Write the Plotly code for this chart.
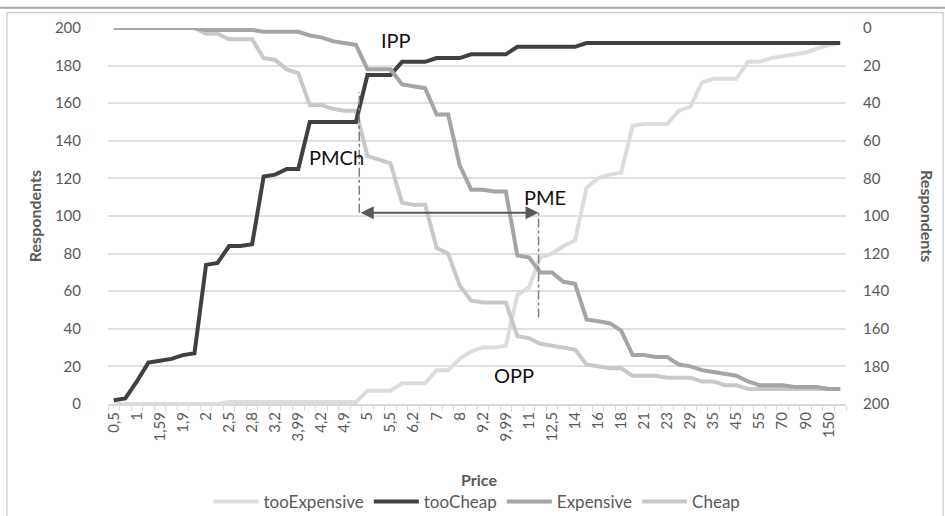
import plotly.graph_objects as go

# Price points asked in the survey (category axis, every other one labelled)
prices = ["0,5", "0,9", "1", "1,5", "1,59", "1,8", "1,9", "1,99", "2", "2,2",
          "2,5", "2,7", "2,8", "3", "3,2", "3,5", "3,99", "4", "4,2", "4,5",
          "4,9", "4,99", "5", "5,2", "5,5", "6", "6,2", "6,5", "7", "7,5",
          "8", "9", "9,2", "9,9", "9,99", "10", "11", "12", "12,5", "13",
          "14", "15", "16", "17", "18", "20", "21", "22", "23", "25",
          "29", "30", "35", "40", "45", "50", "55", "60", "70", "80",
          "90", "100", "150", "200"]

# Cumulative respondent counts per price
too_expensive = [0] * 10 + [1] * 12 + [7, 7, 7, 11, 11, 11, 18, 18, 24, 28,
                 30, 30, 31, 58, 62, 78, 80, 84, 87, 115,
                 120, 122, 123, 148, 149, 149, 149, 156, 158, 171,
                 173, 173, 173, 182, 182, 184, 185, 186, 187, 189,
                 191, 192]
too_cheap = [198, 197, 188, 178, 177, 176, 174, 173, 126, 125,
             116, 116, 115, 79, 78, 75, 75] + [50] * 5 + [25] * 3 + [18] * 3 \
    + [16] * 3 + [14] * 4 + [10] * 6 + [8] * 23
expensive = [0] * 8 + [1] * 5 + [2] * 4 + [4, 5, 7, 8, 9, 22, 22, 22, 30, 31,
             32, 46, 46, 73, 86, 86, 87, 87, 121, 122,
             130, 130, 135, 136, 155, 156, 157, 161, 174, 174,
             175, 175, 179, 180, 182, 183, 184, 185, 188, 190,
             190, 190, 191, 191, 191, 192, 192]
cheap = [200] * 8 + [197, 197, 194, 194, 194, 184, 183, 178, 176, 159,
         159, 157, 156, 156, 132, 130, 128, 107, 106, 106,
         83, 80, 63, 55, 54, 54, 54, 36, 35, 32,
         31, 30, 29, 21, 20, 19, 19, 15, 15, 15,
         14, 14, 14, 12, 12, 10, 10] + [8] * 9

y_ticks = list(range(0, 201, 20))
tick_labels = [p if i % 2 == 0 else "" for i, p in enumerate(prices)]

# Marked price points (category index positions) and their labels
pmc_pos, pme_pos, arrow_level = 21.29, 36.84, 101.7
point_labels = [("IPP", 24.5, 193.8), ("PMCh", 19.3, 131.5),
                ("PME", 37.4, 110.0), ("OPP", 34.7, 15.6)]

FONT = "Lato"
GREY_TXT = "#595959"

fig = go.Figure()
fig.add_trace(go.Scatter(x=prices, y=too_expensive, name="tooExpensive",
                         mode="lines", line=dict(color="#dcdcdc", width=4), yaxis="y"))
fig.add_trace(go.Scatter(x=prices, y=too_cheap, name="tooCheap",
                         mode="lines", line=dict(color="#404040", width=4), yaxis="y2"))
fig.add_trace(go.Scatter(x=prices, y=expensive, name="Expensive",
                         mode="lines", line=dict(color="#a5a5a5", width=4), yaxis="y2"))
fig.add_trace(go.Scatter(x=prices, y=cheap, name="Cheap",
                         mode="lines", line=dict(color="#c8c8c8", width=4), yaxis="y"))

# dash-dot drop lines at PMCh and PME
fig.add_shape(type="line", xref="x", yref="y", x0=pmc_pos, x1=pmc_pos,
              y0=arrow_level, y1=166, line=dict(color="#7f7f7f", width=1.5, dash="dashdot"))
fig.add_shape(type="line", xref="x", yref="y", x0=pme_pos, x1=pme_pos,
              y0=46, y1=arrow_level, line=dict(color="#7f7f7f", width=1.5, dash="dashdot"))

# double-headed range arrow
fig.add_annotation(x=pme_pos, y=arrow_level, ax=pmc_pos, ay=arrow_level,
                   xref="x", yref="y", axref="x", ayref="y", text="",
                   showarrow=True, arrowhead=2, arrowside="end+start",
                   arrowsize=1.3, arrowwidth=2, arrowcolor=GREY_TXT)

for txt, px, py in point_labels:
    fig.add_annotation(x=px, y=py, xref="x", yref="y", text=txt, showarrow=False,
                       xanchor="center", yanchor="middle",
                       font=dict(family=FONT, size=20, color="#111111"))

# axis titles
fig.add_annotation(x=-0.1, y=0.5, xref="paper", yref="paper", text="<b>Respondents</b>",
                   textangle=-90, showarrow=False, xanchor="center", yanchor="middle",
                   font=dict(family=FONT, size=16, color=GREY_TXT))
fig.add_annotation(x=1.111, y=0.5, xref="paper", yref="paper", text="<b>Respondents</b>",
                   textangle=90, showarrow=False, xanchor="center", yanchor="middle",
                   font=dict(family=FONT, size=16, color=GREY_TXT))
fig.add_annotation(x=0.503, y=-0.2, xref="paper", yref="paper", text="<b>Price</b>",
                   showarrow=False, xanchor="center", yanchor="middle",
                   font=dict(family=FONT, size=16, color=GREY_TXT))

# chart frame
fig.add_shape(type="line", xref="paper", yref="paper", x0=-0.2, x1=1.2, y0=1.054, y1=1.054,
              line=dict(color="#a6a6a6", width=2))
fig.add_shape(type="rect", xref="paper", yref="paper", x0=-0.1369, x1=1.1316,
              y0=-0.4, y1=1.0407, line=dict(color="#bfbfbf", width=1))

fig.update_layout(
    width=945, height=516,
    margin=dict(l=108, r=99, t=28, b=112, autoexpand=False),
    paper_bgcolor="white", plot_bgcolor="white",
    font=dict(family=FONT, color=GREY_TXT),
    showlegend=True,
    legend=dict(orientation="h", x=0.5, xanchor="center",
                yref="container", y=0.027, yanchor="middle",
                font=dict(family=FONT, size=17, color=GREY_TXT), bgcolor="rgba(0,0,0,0)",
                itemwidth=45),
    xaxis=dict(type="category", categoryorder="array", categoryarray=prices,
               range=[-0.5, len(prices) - 0.5], automargin=False,
               tickmode="array", tickvals=prices, ticktext=tick_labels,
               tickson="boundaries", ticks="outside", ticklen=5, tickcolor="#d9d9d9",
               tickangle=-90, tickfont=dict(family=FONT, size=15, color=GREY_TXT),
               showline=True, linecolor="#d9d9d9", linewidth=2,
               showgrid=False, zeroline=False),
    yaxis=dict(range=[0, 200], tickvals=y_ticks, showgrid=True, gridcolor="#e0e0e0",
               gridwidth=1.5, zeroline=False, showline=False, automargin=False,
               ticklabelstandoff=26, tickfont=dict(family=FONT, size=15, color=GREY_TXT)),
    yaxis2=dict(range=[200, 0], tickvals=y_ticks, overlaying="y", side="right",
                showgrid=False, zeroline=False, showline=False, automargin=False,
                ticklabelstandoff=16, tickfont=dict(family=FONT, size=15, color=GREY_TXT)),
)

fig.write_html("out.html")
